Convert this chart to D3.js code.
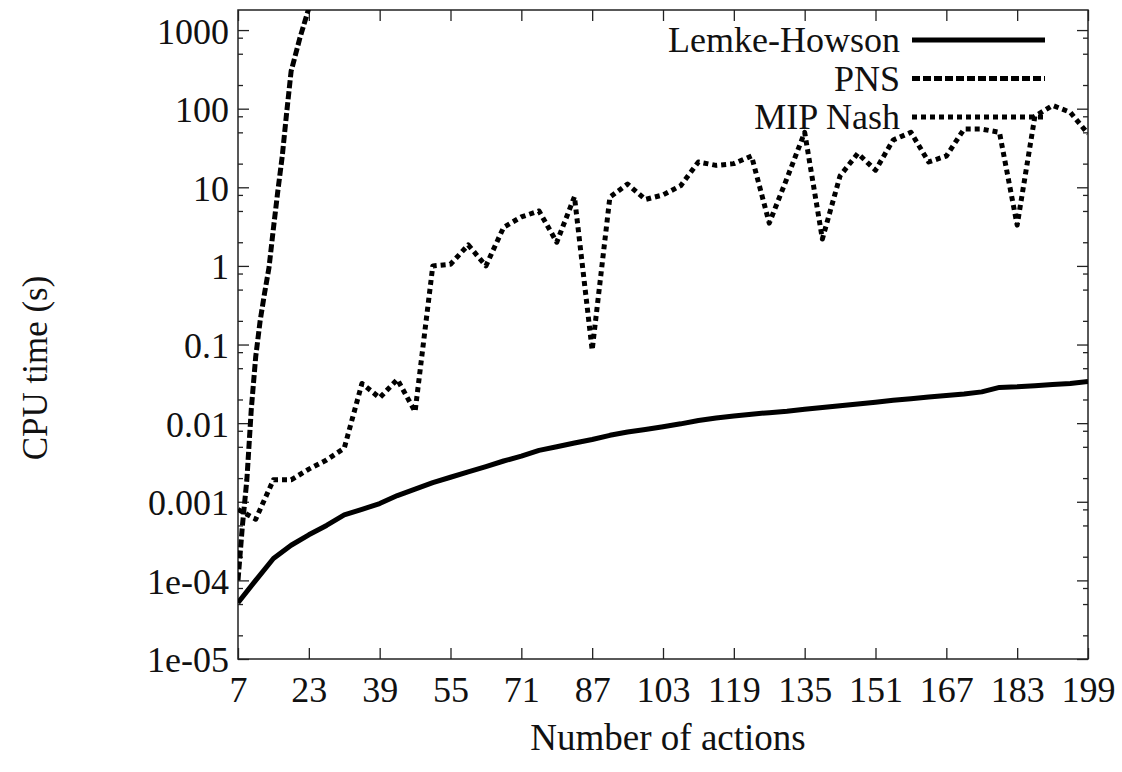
<!DOCTYPE html>
<html>
<head>
<meta charset="utf-8">
<script src="https://cdn.jsdelivr.net/npm/d3@7"></script>
<style>
  body { margin: 0; background: #fff; }
  text { font-family: "Liberation Serif", "DejaVu Serif", serif; fill: #111; }
</style>
</head>
<body>
<svg id="chart" width="1122" height="772"></svg>
<script>
// number of actions (x), one entry per measurement
var mipN = [7,11,15,19,23,27,31,35,39,43,47,51,55,59,63,67,71,75,79,83,87,91,95,99,103,
            107,111,115,119,123,127,131,135,139,143,147,151,155,159,163,167,171,175,179,183,187,191,195,199];
var lemkeN = mipN;
var pnsN = [7,8,9,10,11,12,13,14,15,16,17,18,19,21,23];

// CPU time (s)
var lemkeVals = [5.2e-5,1.0e-4,1.9e-4,2.8e-4,3.8e-4,5.0e-4,6.8e-4,8.0e-4,9.5e-4,1.2e-3,1.45e-3,1.75e-3,
                 2.05e-3,2.4e-3,2.8e-3,3.3e-3,3.8e-3,4.5e-3,5.0e-3,5.6e-3,6.2e-3,7.0e-3,7.7e-3,8.3e-3,
                 9.0e-3,9.8e-3,0.0108,0.0116,0.0123,0.013,0.0136,0.0142,0.015,0.0158,0.0166,0.0175,
                 0.0185,0.0195,0.0205,0.0215,0.0225,0.0235,0.025,0.0285,0.029,0.030,0.031,0.032,0.034];
var pnsVals = [1e-4,5e-4,1.9e-3,0.015,0.07,0.2,0.45,0.95,3,9,25,90,300,800,1900];
var mipVals = [8e-4,6e-4,1.9e-3,1.9e-3,2.6e-3,3.4e-3,4.8e-3,0.032,0.021,0.036,0.014,1.0,1.05,1.85,1.0,
               3.1,4.2,5.0,2.0,7.6,0.085,7.5,11,7,8,10.5,21,19,20,25,3.5,13,50,2.2,14,27,16.5,40,50,
               21,25,55,55,50,3.3,80,110,90,48];

var seriesNames = ["Lemke-Howson", "PNS", "MIP Nash"];
var xTicks = [7,23,39,55,71,87,103,119,135,151,167,183,199];
var yTicks = [1e-5,1e-4,1e-3,0.01,0.1,1,10,100,1000];
var yTickLabels = ["1e-05","1e-04","0.001","0.01","0.1","1","10","100","1000"];
var minorMult = [2,5,8];

var svg = d3.select("#chart");
var pL = 238, pR = 1088, pT = 10, pB = 659;

var x = d3.scaleLinear().domain([7, 199]).range([pL, pR]);
var y = d3.scaleLog().domain([1e-5, 1800]).range([pB, pT]);

// minor ticks
var minorTicks = [];
yTicks.forEach(function(t) {
  minorMult.forEach(function(m) {
    var v = t * m;
    if (v < 1800) minorTicks.push(v);
  });
});

svg.append("clipPath").attr("id", "plotclip")
  .append("rect").attr("x", pL).attr("y", pT).attr("width", pR - pL).attr("height", pB - pT);

// axes: left + right (mirror) with inward ticks
var axisG = svg.append("g").attr("class", "axes");

var yLeft = d3.axisLeft(y).tickValues(yTicks).tickSize(-11).tickFormat(function(d, i) { return yTickLabels[i]; });
axisG.append("g").attr("transform", "translate(" + pL + ",0)").call(yLeft)
  .call(function(g) {
    g.select(".domain").remove();
    g.selectAll("text").attr("x", -9).attr("dy", "0.36em").style("font-size", "36px");
  });
axisG.append("g").attr("transform", "translate(" + pL + ",0)")
  .call(d3.axisLeft(y).tickValues(minorTicks).tickSize(-5).tickFormat(""))
  .call(function(g) { g.select(".domain").remove(); });
axisG.append("g").attr("transform", "translate(" + pR + ",0)")
  .call(d3.axisRight(y).tickValues(yTicks).tickSize(-11).tickFormat(""))
  .call(function(g) { g.select(".domain").remove(); });
axisG.append("g").attr("transform", "translate(" + pR + ",0)")
  .call(d3.axisRight(y).tickValues(minorTicks).tickSize(-5).tickFormat(""))
  .call(function(g) { g.select(".domain").remove(); });

var xBottom = d3.axisBottom(x).tickValues(xTicks).tickSize(-11).tickFormat(d3.format("d"));
axisG.append("g").attr("transform", "translate(0," + pB + ")").call(xBottom)
  .call(function(g) {
    g.select(".domain").remove();
    g.selectAll("text").attr("y", 43).attr("dy", 0).style("font-size", "36px");
  });
axisG.append("g").attr("transform", "translate(0," + pT + ")")
  .call(d3.axisTop(x).tickValues(xTicks).tickSize(-11).tickFormat(""))
  .call(function(g) { g.select(".domain").remove(); });

axisG.selectAll(".tick line").attr("stroke", "#222").attr("stroke-width", 1.3);

// frame
svg.append("rect").attr("x", pL).attr("y", pT).attr("width", pR - pL).attr("height", pB - pT)
  .attr("fill", "none").attr("stroke", "#222").attr("stroke-width", 1.5);

// axis titles
svg.append("text").attr("x", 668).attr("y", 750).attr("text-anchor", "middle")
  .style("font-size", "37px").text("Number of actions");
svg.append("text").attr("transform", "translate(47,368) rotate(-90)").attr("text-anchor", "middle")
  .style("font-size", "35px").text("CPU time (s)");

// lines
var line = d3.line().x(function(d) { return x(d[0]); }).y(function(d) { return y(d[1]); });
var styles = [
  { w: 5, dash: null },
  { w: 5, dash: "8,3" },
  { w: 5, dash: "5,4" }
];
var data = [
  d3.zip(lemkeN, lemkeVals),
  d3.zip(pnsN, pnsVals),
  d3.zip(mipN, mipVals)
];

var plot = svg.append("g").attr("clip-path", "url(#plotclip)");
data.forEach(function(d, i) {
  plot.append("path").datum(d).attr("d", line)
    .attr("fill", "none").attr("stroke", "#000")
    .attr("stroke-width", styles[i].w)
    .attr("stroke-dasharray", styles[i].dash)
    .attr("stroke-linejoin", "round");
});

// legend
var legend = svg.append("g");
seriesNames.forEach(function(name, i) {
  var ly = 40 + i * 38.5;
  legend.append("text").attr("x", 900).attr("y", ly + 12).attr("text-anchor", "end")
    .style("font-size", "36px").text(name);
  legend.append("line").attr("x1", 912).attr("x2", 1045).attr("y1", ly).attr("y2", ly)
    .attr("stroke", "#000").attr("stroke-width", styles[i].w)
    .attr("stroke-dasharray", styles[i].dash);
});
</script>
</body>
</html>
